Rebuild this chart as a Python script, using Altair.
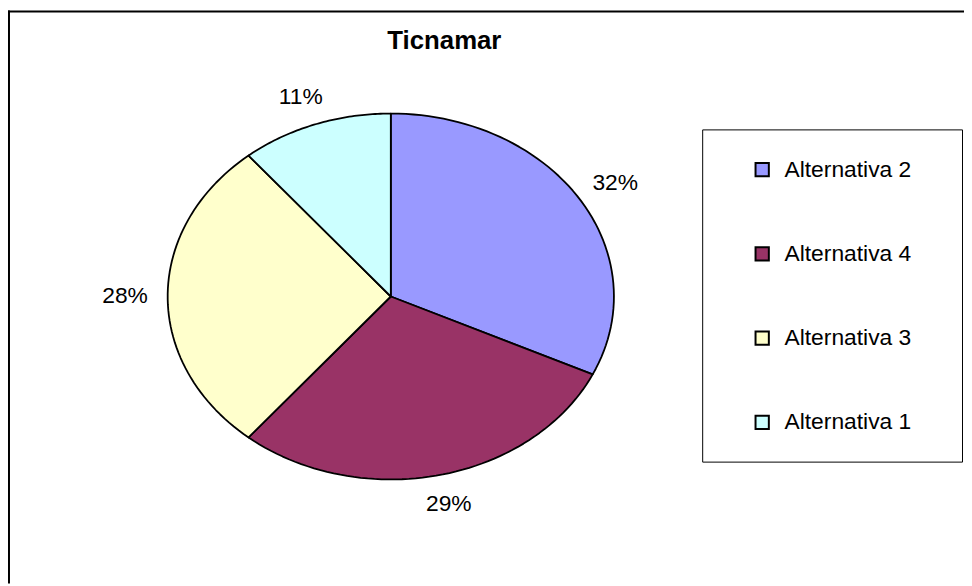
import altair as alt
import pandas as pd

# ---- data ----
categorias = ["Alternativa 2", "Alternativa 4", "Alternativa 3", "Alternativa 1"]
valores = [32, 29, 28, 11]
colores = ["#9999FF", "#993366", "#FFFFCC", "#CCFFFF"]
titulo = ["Ticnamar"]

# ---- layout constants (pixels in plot area) ----
W, H = 964, 578
CX, CY = 386, 288.5        # pie centre
RX, RY = 225, 184.5        # elliptical pie radii
LRX, LRY = 268, 214        # label ellipse radii
FONT = "Liberation Sans"

df = pd.DataFrame({"categoria": categorias, "valor": valores,
                   "orden": list(range(len(categorias)))})

xs = alt.Scale(domain=[0, W], nice=False, zero=False)
ys = alt.Scale(domain=[0, H], nice=False, zero=False, reverse=True)

base = (
    alt.Chart(df)
    .transform_window(cum="sum(valor)", sort=[alt.SortField("orden")], frame=[None, 0])
    .transform_joinaggregate(total="sum(valor)")
    .transform_calculate(
        a0="2*PI*(datum.cum-datum.valor)/datum.total",
        a1="2*PI*datum.cum/datum.total",
    )
)

slices = (
    base.transform_calculate(pasos="sequence(0, 62)")
    .transform_flatten(["pasos"])
    .transform_calculate(
        t="clamp((datum.pasos-1)/59, 0, 1)",
        centro="datum.pasos == 0 || datum.pasos == 61",
        ang="datum.a0 + (datum.a1-datum.a0)*datum.t",
        px=f"datum.centro ? {CX} : {CX} + {RX}*sin(datum.ang)",
        py=f"datum.centro ? {CY} : {CY} - {RY}*cos(datum.ang)",
    )
    .mark_line(filled=True, stroke="black", strokeWidth=1.8, strokeJoin="round")
    .encode(
        x=alt.X("px:Q", scale=xs, axis=None),
        y=alt.Y("py:Q", scale=ys, axis=None),
        color=alt.Color(
            "categoria:N",
            scale=alt.Scale(domain=categorias, range=colores),
            legend=alt.Legend(
                orient="none", legendX=749, legendY=149, title=None,
                symbolType="square", symbolSize=180,
                symbolStrokeColor="black", symbolStrokeWidth=2,
                labelFont=FONT, labelFontSize=23, labelColor="black",
                labelOffset=11, rowPadding=61, padding=0,
            ),
        ),
        order=alt.Order("pasos:Q"),
        detail="categoria:N",
    )
)

labels = (
    base.transform_calculate(
        mid="(datum.a0+datum.a1)/2",
        lx=f"{CX} + {LRX}*sin(datum.mid)",
        ly=f"{CY} - {LRY}*cos(datum.mid)",
        pct="format(datum.valor/datum.total, '.0%')",
    )
    .mark_text(font=FONT, fontSize=23, color="black")
    .encode(
        x=alt.X("lx:Q", scale=xs, axis=None),
        y=alt.Y("ly:Q", scale=ys, axis=None),
        text="pct:N",
    )
)

one = pd.DataFrame({"k": [0]})
frame_left = alt.Chart(one).mark_rule(color="black", strokeWidth=2).encode(
    x=alt.value(1), y=alt.value(0), y2=alt.value(H))
frame_top = alt.Chart(one).mark_rule(color="black", strokeWidth=2).encode(
    x=alt.value(0), x2=alt.value(W), y=alt.value(1))
legend_box = alt.Chart(one).mark_rect(fill="white", stroke="black", strokeWidth=1).encode(
    x=alt.value(700.5), x2=alt.value(962.5), y=alt.value(120.5), y2=alt.value(455.5))

title = (
    alt.Chart(pd.DataFrame({"titulo": titulo}))
    .mark_text(font=FONT, fontSize=26, fontWeight="bold", color="black",
               align="center", baseline="alphabetic")
    .encode(text="titulo:N", x=alt.value(440), y=alt.value(39))
)

chart = (
    alt.layer(frame_left, frame_top, legend_box, slices, labels, title)
    .properties(width=W, height=H, padding=0,
                autosize=alt.AutoSizeParams(type="none"), background="white")
    .configure_view(stroke=None)
)

chart.save("out.html", embed_options={"renderer": "svg", "actions": False})
